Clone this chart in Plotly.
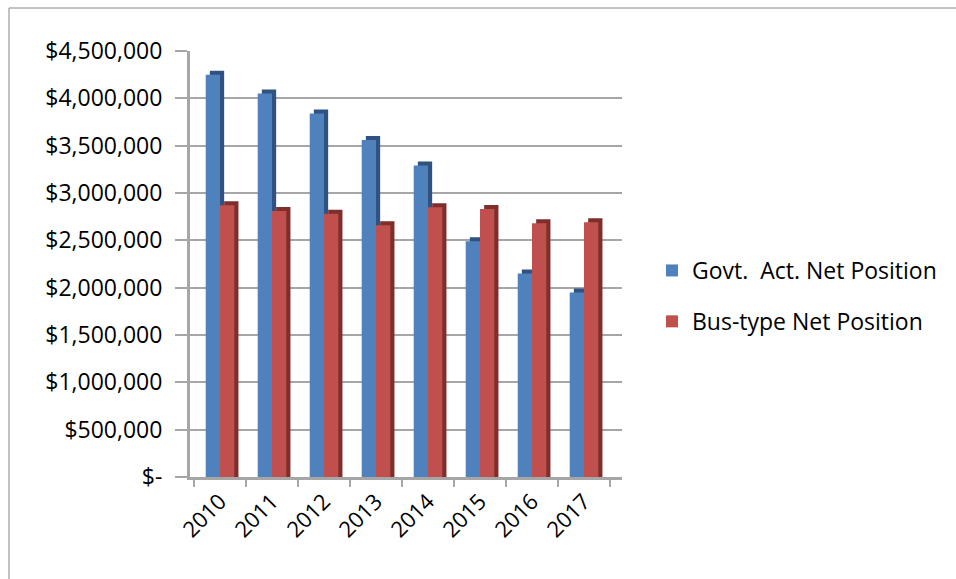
import plotly.graph_objects as go

years = ["2010", "2011", "2012", "2013", "2014", "2015", "2016", "2017"]
govt = [4250000, 4050000, 3840000, 3560000, 3290000, 2490000, 2150000, 1950000]
bus = [2870000, 2810000, 2780000, 2660000, 2850000, 2830000, 2680000, 2690000]
series_names = ["Govt.  Act. Net Position", "Bus-type Net Position"]
tick_vals = [0, 500000, 1000000, 1500000, 2000000, 2500000, 3000000, 3500000, 4000000, 4500000]
tick_text = ["$-", "$500,000", "$1,000,000", "$1,500,000", "$2,000,000", "$2,500,000",
             "$3,000,000", "$3,500,000", "$4,000,000", "$4,500,000"]

FONT = "Open Sans"
BLUE, BLUE_D = "#4f81bd", "#2f5280"
RED, RED_D = "#c0504d", "#7f2e2c"

# plot-area geometry (pixels)
W, H = 956, 579
L, R, T, B = 190, 622, 51, 477
pw, ph = R - L, B - T

depth_x = 0.08
depth_y = 42000
fw = 0.275

fig = go.Figure()
fig.add_trace(go.Bar(x=years, y=[v + depth_y for v in govt], offset=-fw + depth_x, width=fw,
                     marker=dict(color=BLUE_D, line=dict(width=0)), showlegend=False, hoverinfo="skip"))
fig.add_trace(go.Bar(x=years, y=govt, offset=-fw, width=fw, name=series_names[0], legendgroup="a",
                     marker=dict(color=BLUE, line=dict(width=0))))
fig.add_trace(go.Bar(x=years, y=[v + depth_y for v in bus], offset=depth_x, width=fw,
                     marker=dict(color=RED_D, line=dict(width=0)), showlegend=False, hoverinfo="skip"))
fig.add_trace(go.Bar(x=years, y=bus, offset=0, width=fw, name=series_names[1], legendgroup="b",
                     marker=dict(color=RED, line=dict(width=0))))

spacing = 52.0
x0 = -(220 - L) / spacing
x1 = 7 + (R - 584) / spacing

fig.update_layout(
    width=W, height=H,
    margin=dict(l=L, r=W - R, t=T, b=H - B),
    paper_bgcolor="white", plot_bgcolor="white",
    barmode="overlay",
    font=dict(family=FONT, size=22, color="#000000"),
    xaxis=dict(type="category", range=[x0, x1], tickangle=-45, tickson="boundaries",
               ticks="outside", ticklen=7, tickcolor="#a6a6a6", tickwidth=2,
               showline=True, linecolor="#a6a6a6", linewidth=3, showgrid=False,
               tickfont=dict(family=FONT, size=22)),
    yaxis=dict(range=[0, 4500000], tickvals=tick_vals, ticktext=tick_text,
               ticks="outside", ticklen=12, tickcolor="#a6a6a6", tickwidth=2,
               ticklabelstandoff=8,
               showline=True, linecolor="#a6a6a6", linewidth=3,
               showgrid=True, gridcolor="#a6a6a6", gridwidth=2, zeroline=False,
               tickfont=dict(family=FONT, size=23)),
    legend=dict(x=(652 - L) / pw, y=(B - 249) / ph, xanchor="left", yanchor="top",
                font=dict(family=FONT, size=23), tracegroupgap=18,
                itemwidth=30, bgcolor="rgba(0,0,0,0)"),
    showlegend=True,
)

fig.add_shape(type="rect", xref="paper", yref="paper",
              x0=(9 - L) / pw, x1=(W + 20 - L) / pw,
              y0=(B - (H + 20)) / ph, y1=(B - 8) / ph,
              line=dict(color="#868686", width=1), fillcolor="rgba(0,0,0,0)", layer="below")

fig.write_html("out.html")
